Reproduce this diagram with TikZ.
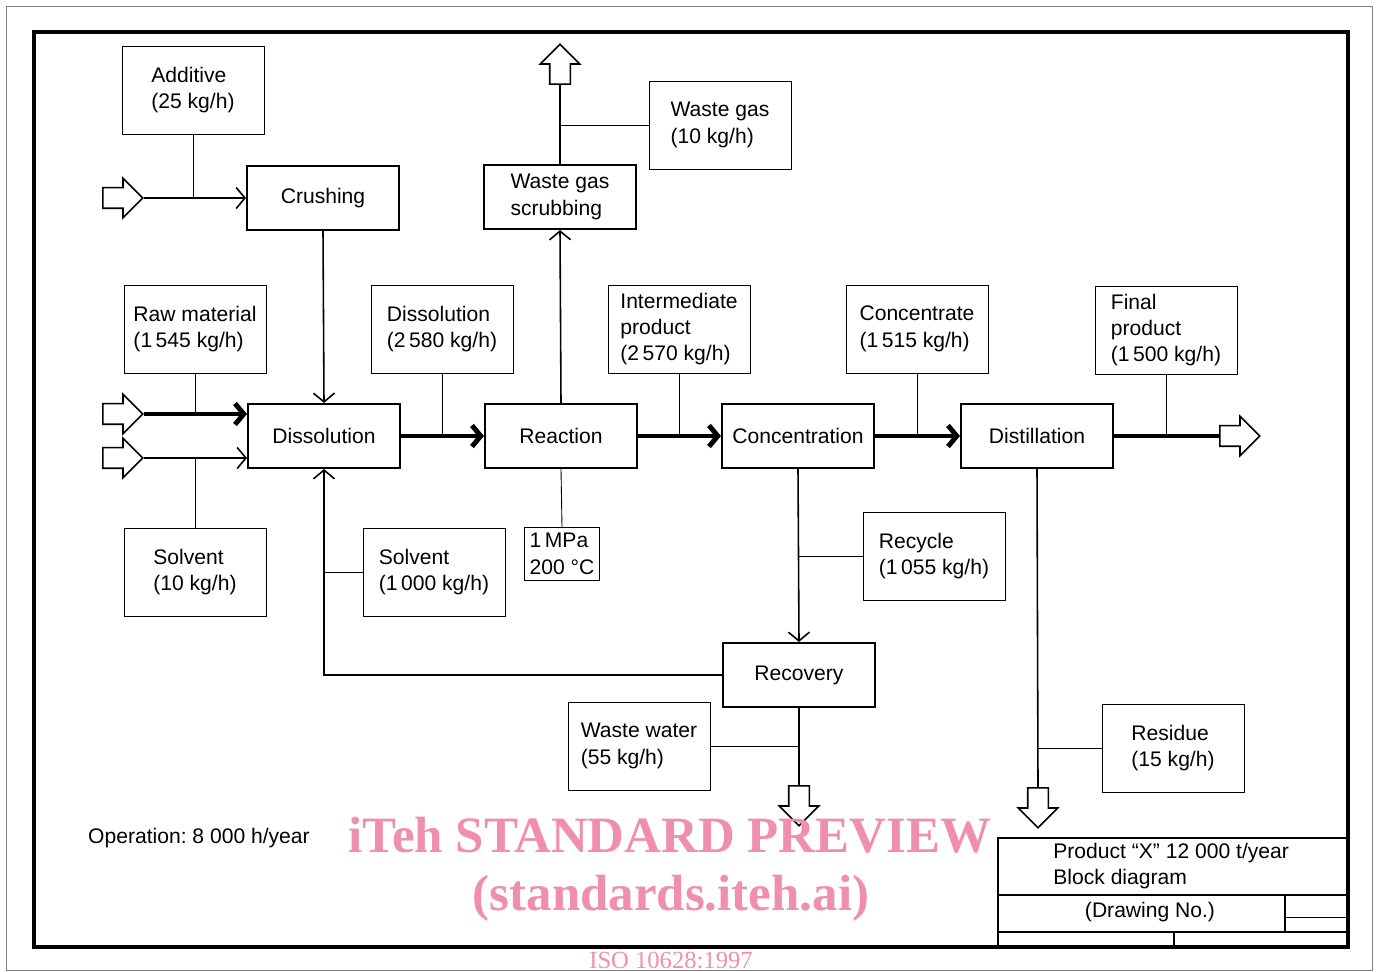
\documentclass[tikz,border=0pt]{standalone}
\usepackage{fontspec}
\setmainfont{Liberation Sans}
\newfontfamily\watermarkfont{Liberation Serif}
\usepackage{xcolor}
\usepackage{tikz}
\usetikzlibrary{arrows.meta, positioning, shapes.arrows}
\definecolor{watermarkPink}{HTML}{EF8FAD}
\newcommand{\labelFont}{\fontsize{12}{15}\selectfont}

\tikzset{
    processBox/.style={rectangle, draw, line width=1.2pt, minimum width=3.04cm, minimum height=1.28cm, align=left, font=\labelFont},
    infoBox/.style={rectangle, draw, line width=0.5pt, minimum width=2.84cm, minimum height=1.76cm, align=left, font=\labelFont},
    blockArrow/.style={single arrow, draw, line width=0.9pt, fill=white, minimum height=0.8cm, single arrow head extend=0.19cm, inner xsep=0pt, inner ysep=0.19cm, anchor=tail},
    thinFlow/.style={line width=0.9pt},
    thickFlow/.style={line width=2.8pt},
    leader/.style={line width=0.5pt},
    watermark/.style={text=watermarkPink, anchor=base, inner sep=0pt}
}

\begin{document}
\begin{tikzpicture}[x=0.02cm, y=-0.02cm, >={Straight Barb[length=5pt, width=12pt]}]
        \useasboundingbox (0,0) rectangle (1379,972);
        % frames
        \draw[gray, line width=0.4pt] (6,6) rectangle (1372,970);
        \draw[line width=2.3pt] (34,32) rectangle (1348,947);

        % process steps
        \node[processBox] (crushing) at (323,198) {Crushing};
        \node[processBox] (scrubbing) at (560,197) {Waste gas\\scrubbing};
        \node[processBox] (dissolution) at (324,436) {Dissolution};
        \node[processBox] (reaction) at (561,436) {Reaction};
        \node[processBox] (concentration) at (798,436) {Concentration};
        \node[processBox] (distillation) at (1037,436) {Distillation};
        \node[processBox] (recovery) at (799,675) {Recovery};

        % stream data
        \node[infoBox] (additiveInfo) at (193,90) {Additive\\(25 kg/h)};
        \node[infoBox] (wasteGasInfo) at (720,125) {Waste gas\\(10 kg/h)};
        \node[infoBox] (rawInfo) at (195,329) {Raw material\\(1\,545 kg/h)};
        \node[infoBox] (dissolutionInfo) at (442,329) {Dissolution\\(2\,580 kg/h)};
        \node[infoBox] (intermediateInfo) at (679,329) {Intermediate\\product\\(2\,570 kg/h)};
        \node[infoBox] (concentrateInfo) at (917,329) {Concentrate\\(1\,515 kg/h)};
        \node[infoBox] (finalInfo) at (1166,330) {Final\\product\\(1\,500 kg/h)};
        \node[infoBox] (solventInfo) at (195,572) {Solvent\\(10 kg/h)};
        \node[infoBox] (solventRecInfo) at (434,572) {Solvent\\(1\,000 kg/h)};
        \node[infoBox, minimum width=1.5cm, minimum height=1.06cm, inner sep=2pt] (pressureInfo) at (562,554) {1\,MPa\\200 °C};
        \node[infoBox] (recycleInfo) at (934,556) {Recycle\\(1\,055 kg/h)};
        \node[infoBox] (wasteWaterInfo) at (639,746) {Waste water\\(55 kg/h)};
        \node[infoBox] (residueInfo) at (1173,748) {Residue\\(15 kg/h)};

        % inlets and outlets
        \node[blockArrow] (additiveIn) at (102,198) {};
        \node[blockArrow] (rawIn) at (102,414) {};
        \node[blockArrow] (solventIn) at (102,458) {};
        \node[blockArrow, rotate=90] (gasOut) at (560,85) {};
        \node[blockArrow] (productOut) at (1219,436) {};
        \node[blockArrow, rotate=-90] (waterOut) at (799,785) {};
        \node[blockArrow, rotate=-90] (residueOut) at (1038,787) {};

        % main flow
        \draw[thinFlow, ->] (additiveIn.tip) -- (crushing.west);
        \draw[thinFlow, ->] (crushing.south) -- (dissolution.north);
        \draw[thickFlow, ->] (rawIn.tip) -- (rawIn.tip -| dissolution.west);
        \draw[thinFlow, ->] (solventIn.tip) -- (solventIn.tip -| dissolution.west);
        \draw[thickFlow, ->] (dissolution.east) -- (reaction.west);
        \draw[thinFlow, ->] (reaction.north) -- (scrubbing.south);
        \draw[thinFlow] (scrubbing.north) -- (gasOut.tail);
        \draw[thickFlow, ->] (reaction.east) -- (concentration.west);
        \draw[thickFlow, ->] (concentration.east) -- (distillation.west);
        \draw[thickFlow] (distillation.east) -- (productOut.tail);
        \draw[thinFlow, ->] (concentration.south) -- (recovery.north);
        \draw[thinFlow, ->] (recovery.west) -| (dissolution.south);
        \draw[thinFlow] (recovery.south) -- (waterOut.tail);
        \draw[thinFlow] (distillation.south) -- (residueOut.tail);

        % leaders to the streams
        \draw[leader] (additiveInfo.south) -- (additiveInfo.south |- additiveIn.tip);
        \draw[leader] (wasteGasInfo.west) -- (wasteGasInfo.west -| scrubbing.north);
        \draw[leader] (rawInfo.south) -- (rawInfo.south |- rawIn.tip);
        \draw[leader] (solventInfo.north) -- (solventInfo.north |- solventIn.tip);
        \draw[leader] (dissolutionInfo.south) -- (dissolutionInfo.south |- dissolution.east);
        \draw[leader] (intermediateInfo.south) -- (intermediateInfo.south |- reaction.east);
        \draw[leader] (concentrateInfo.south) -- (concentrateInfo.south |- concentration.east);
        \draw[leader] (finalInfo.south) -- (finalInfo.south |- distillation.east);
        \draw[leader] (reaction.south) -- (pressureInfo.north);
        \draw[leader] (solventRecInfo.west) -- (solventRecInfo.west -| dissolution.south);
        \draw[leader] (recycleInfo.west) -- (recycleInfo.west -| concentration.south);
        \draw[leader] (wasteWaterInfo.east) -- (wasteWaterInfo.east -| recovery.south);
        \draw[leader] (residueInfo.west) -- (residueInfo.west -| distillation.south);

        \node[anchor=west, font=\labelFont] (operation) at (82,838) {Operation:\ 8 000 h/year};

        % title block
        \draw[line width=1.6pt] (998,947) -- (998,838) -- (1348,838);
        \draw[line width=0.8pt] (998,895) -- (1348,895);
        \draw[line width=0.8pt] (998,932) -- (1348,932);
        \draw[line width=0.8pt] (1285,895) -- (1285,932);
        \draw[line width=0.5pt] (1285,917) -- (1348,917);
        \draw[line width=0.8pt] (1174,932) -- (1174,947);
        \node[anchor=west, align=left, font=\labelFont, inner sep=0pt] (titleText) at (1053,866) {Product “X” 12 000 t/year\\Block diagram};
        \node[font=\labelFont] (drawingNo) at (1150,912) {(Drawing No.)};

        % watermark
        \node[watermark, font=\watermarkfont\bfseries\fontsize{29}{34}\selectfont] (watermarkTop) at (670,852) {iTeh STANDARD PREVIEW};
        \node[watermark, font=\watermarkfont\bfseries\fontsize{29}{34}\selectfont] (watermarkBottom) at (671,910) {(standards.iteh.ai)};
        \node[watermark, font=\watermarkfont\fontsize{14}{16}\selectfont] (isoNote) at (671,968) {ISO 10628:1997};
    \end{tikzpicture}
\end{document}
